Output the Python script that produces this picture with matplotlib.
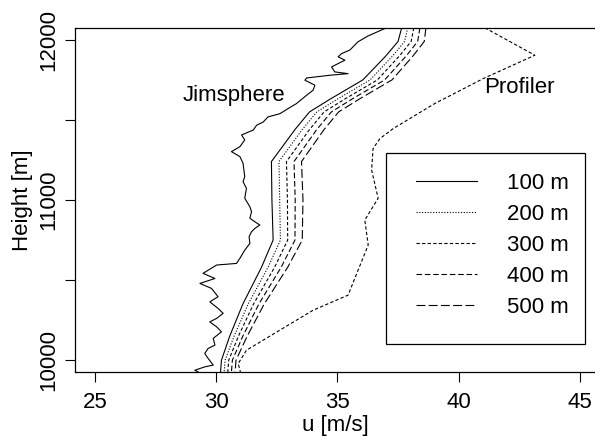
import matplotlib
matplotlib.use('Agg')
import matplotlib.pyplot as plt
from matplotlib.patches import Rectangle

plt.rcParams['font.family'] = ['Liberation Sans', 'DejaVu Sans']

# Jimsphere profile (u in m/s, height in m)
jim_u = [37.02, 36.27, 35.85, 35.51, 35.17, 35.03, 35.31, 35.03, 34.76, 34.89, 35.44, 34.69,
         33.73, 33.66, 34.07, 34.00, 33.73, 33.31, 32.97, 32.63, 32.14, 31.94, 31.67, 31.53,
         31.05, 31.18, 30.98, 30.63, 30.98, 31.11, 31.18, 31.11, 31.25, 31.18, 31.39, 31.46,
         31.39, 31.60, 31.80, 31.60, 31.46, 31.36, 31.39, 31.18, 30.98, 30.84, 30.02, 29.46,
         29.95, 29.33, 29.81, 30.08, 29.74, 30.08, 30.29, 30.02, 29.74, 30.02, 30.22, 29.88,
         29.95, 29.67, 29.53, 29.67, 29.88, 29.53, 29.12, 29.33]
jim_h = [12075, 12025, 11988, 11936, 11914, 11894, 11873, 11852, 11831, 11800, 11789, 11779,
         11762, 11748, 11717, 11686, 11654, 11602, 11571, 11539, 11519, 11487, 11467, 11437,
         11406, 11375, 11333, 11302, 11271, 11229, 11146, 11114, 11073, 11011, 10958, 10927,
         10886, 10864, 10844, 10823, 10802, 10771, 10729, 10687, 10636, 10604, 10594, 10542,
         10510, 10479, 10448, 10396, 10364, 10323, 10292, 10261, 10239, 10208, 10177, 10136,
         10094, 10073, 10042, 10011, 9969, 9958, 9937, 9920]

# Profiler
prof_u = [41.08, 43.14, 41.01, 39.01, 37.30, 36.75, 36.47, 36.41, 36.68, 36.13, 36.27,
          35.44, 34.00, 31.94, 31.25, 30.91, 31.00]
prof_h = [12075, 11904, 11758, 11602, 11446, 11383, 11321, 11187, 11011, 10875, 10719,
          10406, 10312, 10125, 10062, 9979, 9927]

# averaged profiles for the different averaging lengths
avg_h = [12075, 11990, 11900, 11750, 11630, 11550, 11440, 11240, 11000, 10750, 10580,
         10350, 10150, 10000, 9925]
u_100 = [37.65, 37.50, 37.00, 36.05, 34.70, 33.85, 33.25, 32.28, 32.30, 32.35, 31.87,
         31.10, 30.56, 30.22, 30.18]
u_200 = [37.90, 37.77, 37.28, 36.35, 35.00, 34.15, 33.55, 32.59, 32.62, 32.65, 32.14,
         31.32, 30.74, 30.37, 30.33]
u_300 = [38.15, 38.04, 37.56, 36.65, 35.30, 34.45, 33.85, 32.90, 32.94, 32.95, 32.41,
         31.54, 30.92, 30.52, 30.48]
u_400 = [38.40, 38.31, 37.84, 36.95, 35.60, 34.75, 34.15, 33.21, 33.26, 33.25, 32.68,
         31.76, 31.10, 30.67, 30.63]
u_500 = [38.65, 38.58, 38.12, 37.25, 35.90, 35.05, 34.45, 33.52, 33.58, 33.55, 32.95,
         31.98, 31.28, 30.82, 30.78]
avg_labels = ['100 m', '200 m', '300 m', '400 m', '500 m']

x_ticks = [25, 30, 35, 40, 45]
y_ticks = [10000, 10500, 11000, 11500, 12000]
y_ticklabels = ['10000', '', '11000', '', '12000']

fs = 16

fig = plt.figure(figsize=(5.95, 4.42), dpi=100)
ax = fig.add_axes([0.126, 0.158, 0.874, 0.779])

lw = 0.8
styles = ['-', (0, (1, 1.5)), (0, (3, 2)), (0, (5, 2.5)), (0, (8, 3))]
for u, lab, ls in zip([u_100, u_200, u_300, u_400, u_500], avg_labels, styles):
    ax.plot(u, avg_h, color='black', lw=lw, ls=ls, label=lab)

ax.plot(jim_u, jim_h, color='black', lw=lw)
ax.plot(prof_u, prof_h, color='black', lw=lw, ls=(0, (3, 2)))

ax.text(30.73, 11653, 'Jimsphere', fontsize=fs, ha='center', va='center')
ax.text(42.52, 11700, 'Profiler', fontsize=fs, ha='center', va='center')

ax.set_xlim(24.18, 45.62)
ax.set_ylim(9925, 12075)
ax.set_xticks(x_ticks)
ax.set_yticks(y_ticks)
ax.set_yticklabels(y_ticklabels, rotation=90, va='center')
ax.tick_params(direction='out', length=7, width=0.8, labelsize=fs, pad=4)
ax.tick_params(axis='x', pad=7)
ax.spines['right'].set_visible(False)
for s in ['left', 'top', 'bottom']:
    ax.spines[s].set_linewidth(0.9)

ax.set_xlabel('u [m/s]', fontsize=fs, labelpad=2)
ax.set_ylabel('Height [m]', fontsize=fs, labelpad=4)

# legend box
ax.add_patch(Rectangle((0.598, 0.081), 0.383, 0.555, transform=ax.transAxes,
                       fill=False, edgecolor='black', lw=0.9, zorder=5))
ax.legend(loc='upper left', bbox_to_anchor=(0.656, 0.579), frameon=False,
          fontsize=fs, handlelength=2.75, handletextpad=1.35, labelspacing=0.45,
          borderpad=0, borderaxespad=0)

fig.savefig('out.png', dpi=100)
